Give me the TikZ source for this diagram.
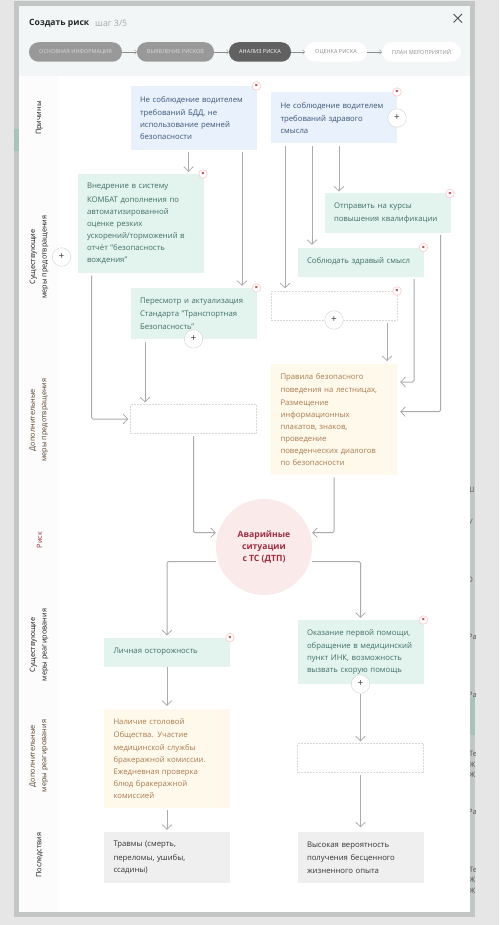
\documentclass[tikz,border=0pt]{standalone}
\usepackage{fontspec}
\setmainfont{Open Sans}
\usetikzlibrary{arrows.meta}
\definecolor{pagebg}{HTML}{E6E6E6}
\definecolor{shadowbg}{HTML}{C2C6C5}
\definecolor{headbg}{HTML}{F3F6F6}
\definecolor{sidebg}{HTML}{FCFCFC}
\definecolor{causefill}{HTML}{E8F1FC}
\definecolor{causetext}{HTML}{3A5578}
\definecolor{measfill}{HTML}{E3F3EE}
\definecolor{meastext}{HTML}{3F6F66}
\definecolor{addfill}{HTML}{FFF9EC}
\definecolor{addtext}{HTML}{A87A4C}
\definecolor{endfill}{HTML}{EFEFEF}
\definecolor{endtext}{HTML}{333333}
\definecolor{riskfill}{HTML}{FBEAEA}
\definecolor{risktext}{HTML}{9C2F42}
\definecolor{linegray}{HTML}{ABABAB}
\definecolor{stripgreen}{HTML}{A9C2BA}

\begin{document}
\begin{tikzpicture}[
            x=1pt, y=-1pt,
            card/.style={minimum width=126, text width=107, inner xsep=9.5, inner ysep=0,
                align=left, font=\fontsize{7.75}{12.1}\selectfont,
                execute at begin node={\vspace*{1.5pt}}},
            cause/.style={card, fill=causefill, text=causetext},
            measure/.style={card, fill=measfill, text=meastext},
            extra/.style={card, fill=addfill, text=addtext},
            result/.style={card, fill=endfill, text=endtext},
            blank/.style={card, draw=black!15, dash pattern=on 2 off 1, line width=.4, fill=white},
            risk/.style={circle, fill=riskfill, text=risktext, minimum size=96, inner sep=0,
                align=center, font=\fontsize{8.6}{12.1}\selectfont\bfseries},
            plus/.style={circle, draw=black!18, fill=white, minimum size=18.5, inner sep=0,
                line width=.4, text=black!75, font=\fontsize{10}{10}\selectfont},
            cross/.style={circle, draw=red!18, fill=white, minimum size=8.5, inner sep=0,
                line width=.8, text=red!65!black, font=\fontsize{5.5}{5.5}\selectfont\bfseries},
            pill/.style={rounded corners=9.7, minimum height=19.5, inner sep=0,
                font=\fontsize{5.5}{6}\selectfont},
            done/.style={pill, fill=black!40, text=white!85!black},
            current/.style={pill, fill=black!62, text=white},
            todo/.style={pill, fill=white, text=black!45},
            rowname/.style={rotate=90, align=center, text=black!90,
                font=\fontsize{7.3}{11.5}\selectfont},
            peek/.style={anchor=west, inner sep=0, text=black!65, font=\fontsize{7.5}{10.5}\selectfont},
            arrow/.style={-{Straight Barb[length=4.5,width=9.5,line width=.8]}, draw=linegray,
                line width=1, rounded corners=1.5},
            steparrow/.style={-{Straight Barb[length=2,width=4.5,line width=.4]}, draw=black!45,
                line width=.4},
        ]
            % frame
            \fill[pagebg] (0, 0) rectangle (499, 925);
            \fill[shadowbg] (14, 1) rectangle (475, 917);
            \fill[stripgreen] (14, 129) rectangle (19, 151);
            \fill[stripgreen] (470, 697) rectangle (475, 735);
            \begin{scope}
                \clip (468, 470) rectangle (475, 917);
                \node[peek] (peeka) at (466.5, 490) {Ш};
                \node[peek] (peekb) at (468, 522) {У};
                \node[peek] (peekc) at (467, 580) {О};
                \node[peek] (peekd) at (468, 637) {Ра};
                \node[peek] (peeke) at (468, 695) {Ра};
                \node[peek] (peekf) at (469, 754) {Те};
                \node[peek] (peekg) at (469, 765) {Ж};
                \node[peek] (peekh) at (469, 775) {Ж};
                \node[peek] (peeki) at (468, 812) {Ра};
                \node[peek] (peekj) at (469, 870) {Те};
                \node[peek] (peekk) at (469, 880) {Ж};
                \node[peek] (peekl) at (469, 891) {Ж};
            \end{scope}
            \fill[white] (19, 6) rectangle (470, 912);
            \fill[headbg] (19, 6) rectangle (470, 76);
            \fill[sidebg] (19, 76) rectangle (58, 912);

            % header
            \node[anchor=west, inner sep=0, font=\fontsize{8.6}{10}\selectfont\bfseries, text=black!85]
                (title) at (29, 23.5) {Создать риск};
            \node[anchor=west, inner sep=0, font=\fontsize{8.8}{10}\selectfont, text=black!35]
                (stepno) at (95, 23.5) {шаг 3/5};
            \draw[line width=.9, black!70] (453.5, 14) -- (462, 22.5);
            \draw[line width=.9, black!70] (462, 14) -- (453.5, 22.5);

            \node[done, minimum width=93] (info) at (75.5, 52) {ОСНОВНАЯ ИНФОРМАЦИЯ};
            \node[done, minimum width=77] (detect) at (175.5, 52) {ВЫЯВЛЕНИЕ РИСКОВ};
            \node[current, minimum width=62] (analysis) at (260, 52) {АНАЛИЗ РИСКА};
            \node[todo, minimum width=62] (rating) at (336, 52) {ОЦЕНКА РИСКА};
            \node[todo, minimum width=79] (plan) at (421.5, 52) {ПЛАН МЕРОПРИЯТИЙ};
            \draw[steparrow] (info) -- (detect);
            \draw[steparrow] (detect) -- (analysis);
            \draw[steparrow] (analysis) -- (rating);
            \draw[steparrow] (rating) -- (plan);

            % row names
            \node[rowname] (rowa) at (39.5, 118) {Причины};
            \node[rowname] (rowb) at (39, 257) {Существующие\\меры предотвращения};
            \node[rowname, text=addtext!50!black] (rowc) at (39, 420) {Дополнительные\\меры предотвращения};
            \node[rowname, text=risktext] (rowd) at (39.5, 540) {Риск};
            \node[rowname] (rowe) at (39, 645) {Существующие\\меры реагирования};
            \node[rowname, text=addtext!50!black] (rowf) at (39, 756) {Дополнительные\\меры реагирования};
            \node[rowname] (rowg) at (39.5, 855) {Последствия};

            % cards
            \node[cause, minimum height=64] (causea) at (193.5, 118) {Не соблюдение водителем\\требований БДД, не\\использование ремней\\безопасности};
            \node[cause, minimum height=51] (causeb) at (334, 118) {Не соблюдение водителем\\требований здравого\\смысла};
            \node[measure, minimum height=99] (combat) at (140.5, 223.5) {Внедрение в систему\\КОМБАТ дополнения по\\автоматизированной\\оценке резких\\ускорений/торможений в\\отчёт "безопасность\\вождения"};
            \node[measure, minimum height=39.5] (courses) at (387.5, 213) {Отправить на курсы\\повышения квалификации};
            \node[measure, minimum height=29] (sense) at (360.5, 262) {Соблюдать здравый смысл};
            \node[measure, minimum height=51] (review) at (193.5, 313.5) {Пересмотр и актуализация\\Стандарта "Транспортная\\Безопасность"};
            \node[blank, minimum height=29] (emptya) at (334, 306) {};
            \node[blank, minimum height=29] (emptyb) at (193.5, 419) {};
            \node[extra, minimum height=111.5] (rules) at (334, 419.5) {Правила безопасного\\поведения на лестницах,\\Размещение\\информационных\\плакатов, знаков,\\проведение\\поведенческих диалогов\\по безопасности};
            \node[risk] (crash) at (264, 547) {Аварийные\\ситуации\\с ТС (ДТП)};
            \node[measure, minimum height=29] (care) at (167, 652) {Личная осторожность};
            \node[measure, minimum height=64] (aid) at (360.5, 652) {Оказание первой помощи,\\обращение в медицинский\\пункт ИНК, возможность\\вызвать скорую помощь};
            \node[extra, minimum height=99] (canteen) at (167, 758.5) {Наличие столовой\\Общества. Участие\\медицинской службы\\бракеражной комиссии.\\Ежедневная проверка\\блюд бракеражной\\комиссией};
            \node[blank, minimum height=29] (emptyc) at (360.5, 758) {};
            \node[result, minimum height=51] (injury) at (167, 857.5) {Травмы (смерть,\\переломы, ушибы,\\ссадины)};
            \node[result, minimum height=51] (luck) at (360.5, 857.5) {Высокая вероятность\\получения бесценного\\жизненного опыта};

            % connectors
            \draw[arrow, shorten <=2, shorten >=2] ([xshift=-5]causea.south) -- ([xshift=48]combat.north);
            \draw[arrow, shorten <=2, shorten >=2] ([xshift=48.5]causea.south) -- ([xshift=48.5]review.north);
            \draw[arrow, shorten <=2.5, shorten >=3] ([xshift=-49]causeb.south) -- ([xshift=-49]emptya.north);
            \draw[arrow, shorten <=2.5, shorten >=2.5] ([xshift=-22]causeb.south) -- ([xshift=-48.5]sense.north);
            \draw[arrow, shorten <=2.5, shorten >=1.5] ([xshift=5]causeb.south) -- ([xshift=-48.5]courses.north);
            \draw[arrow, shorten <=2.5, shorten >=2.5] ([xshift=53]emptya.south) -- ([xshift=53]rules.north);
            \draw[arrow, shorten <=2.5, shorten >=3] ([xshift=53.5]sense.south) |- ([yshift=37.5]rules.east);
            \draw[arrow, shorten <=2, shorten >=3] ([xshift=53]courses.south) |- ([yshift=7.8]rules.east);
            \draw[arrow, shorten <=2.5, shorten >=2] ([xshift=-49]combat.south) |- (emptyb.west);
            \draw[arrow, shorten <=2.5, shorten >=2] ([xshift=-48.5]review.south) -- ([xshift=-48.5]emptyb.north);
            \draw[arrow, shorten <=2.5, shorten >=0] (emptyb.south) |- ([yshift=14.3]crash.west);
            \draw[arrow, shorten <=2, shorten >=0] (rules.south) |- ([yshift=14.3]crash.east);
            \draw[arrow, shorten >=2] ([yshift=-14.5]crash.west) -| (care.north);
            \draw[arrow, shorten >=2] ([yshift=-14.5]crash.east) -| (aid.north);
            \draw[arrow, shorten >=3] (care) -- (canteen);
            \draw[arrow, shorten <=10, shorten >=2] (aid) -- (emptyc);
            \draw[arrow, shorten <=2, shorten >=2] (canteen) -- (injury);
            \draw[arrow, shorten <=2.5, shorten >=4.5] (emptyc) -- (luck);

            % buttons
            \node[plus] (addb) at (397, 118) {+};
            \node[plus] (adde) at (61.5, 257) {+};
            \node[plus] (addf) at (193.5, 339) {+};
            \node[plus] (addg) at (334, 320) {+};
            \node[plus] (addh) at (360.5, 684) {+};
            \node[cross] (dela) at (256.5, 86) {×};
            \node[cross] (delb) at (397, 92) {×};
            \node[cross] (delc) at (203, 174) {×};
            \node[cross] (deld) at (450, 193.5) {×};
            \node[cross] (dele) at (423.5, 247.5) {×};
            \node[cross] (delf) at (256.5, 288) {×};
            \node[cross] (delg) at (397, 291) {×};
            \node[cross] (delh) at (230, 637.5) {×};
            \node[cross] (deli) at (423.5, 620) {×};
        \end{tikzpicture}
\end{document}
